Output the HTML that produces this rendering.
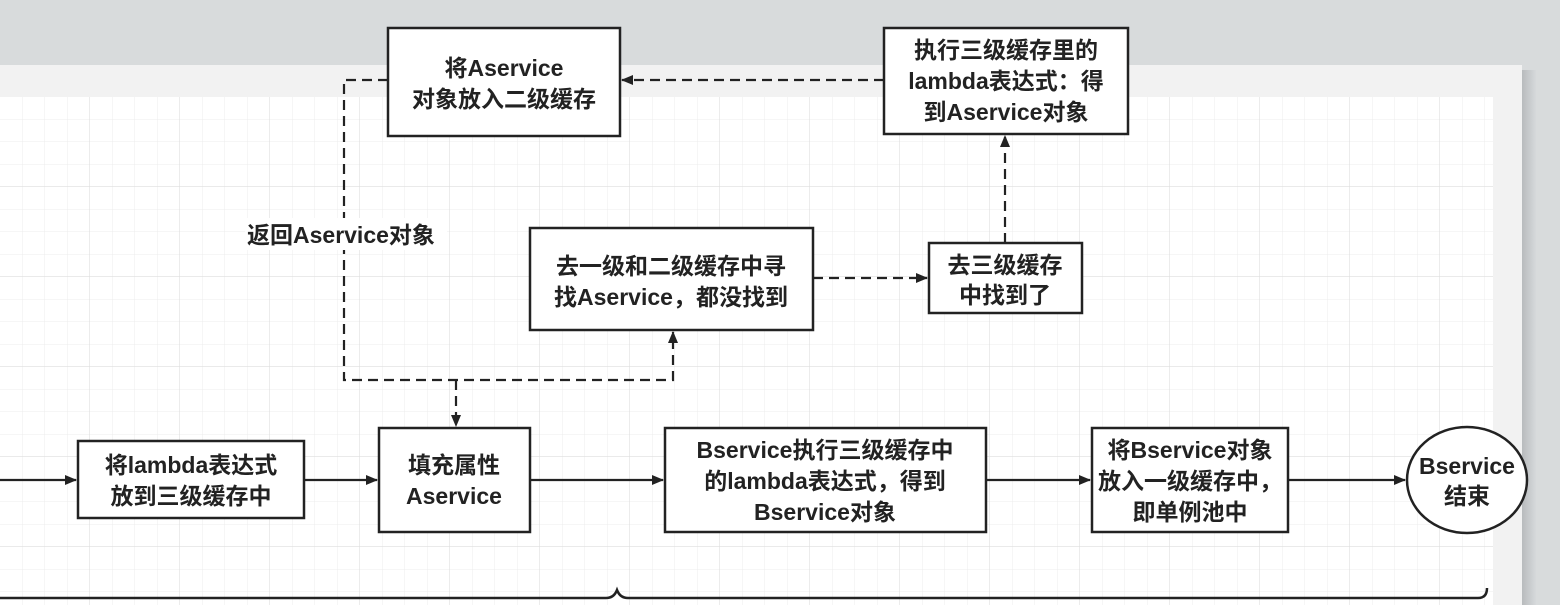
<!DOCTYPE html>
<html><head><meta charset="utf-8"><style>
html,body{margin:0;padding:0;width:1560px;height:605px;overflow:hidden;background:#d6d9db;}
</style></head><body>
<svg width="1560" height="605" xmlns="http://www.w3.org/2000/svg" style="display:block">
<defs>
<pattern id="g" x="0" y="97" width="22.5" height="22.5" patternUnits="userSpaceOnUse">
<path d="M22.5 0V22.5M0 22.5H22.5" stroke="#ececec" stroke-width="1" fill="none"/>
</pattern>
<pattern id="G" x="0" y="97" width="90" height="90" patternUnits="userSpaceOnUse">
<path d="M90 0V90M0 90H90" stroke="#dedede" stroke-width="1.2" fill="none"/>
</pattern>
<marker id="a" markerWidth="12" markerHeight="10" refX="11" refY="5" orient="auto" markerUnits="userSpaceOnUse">
<path d="M0 0L12 5L0 10Z" fill="#222"/>
</marker>
<linearGradient id="sh" x1="0" x2="1"><stop offset="0" stop-color="#b8bbbd"/><stop offset="1" stop-color="#d6d9db"/></linearGradient>
</defs>
<rect x="0" y="0" width="1560" height="605" fill="#d8dbdc"/>
<rect x="1522" y="70" width="14" height="535" fill="url(#sh)"/>
<rect x="0" y="65" width="1522" height="540" fill="#f2f2f2"/>
<rect x="0" y="97" width="1493" height="508" fill="#fff"/>
<rect x="0" y="97" width="1493" height="508" fill="url(#g)"/>
<rect x="0" y="97" width="1493" height="508" fill="url(#G)"/>
<g stroke="#222" stroke-width="2.5" fill="none">
<path d="M0 598H606Q614 598 617 590Q620 598 628 598H1478Q1487 598 1487 588"/>
</g>
<g stroke="#222" stroke-width="2.5" fill="#fff">
<rect x="388" y="28" width="232" height="108"/>
<rect x="884" y="28" width="244" height="106"/>
<rect x="530" y="228" width="283" height="102"/>
<rect x="929" y="243" width="153" height="70"/>
<rect x="78" y="441" width="226" height="77"/>
<rect x="379" y="428" width="151" height="104"/>
<rect x="665" y="428" width="321" height="104"/>
<rect x="1092" y="428" width="196" height="104"/>
<ellipse cx="1467" cy="480" rx="60" ry="53"/>
</g>
<g stroke="#222" stroke-width="2.2" fill="none">
<path d="M0 480H76" marker-end="url(#a)"/>
<path d="M304 480H377" marker-end="url(#a)"/>
<path d="M530 480H663" marker-end="url(#a)"/>
<path d="M986 480H1090" marker-end="url(#a)"/>
<path d="M1288 480H1405" marker-end="url(#a)"/>
</g>
<g stroke="#222" stroke-width="2.2" fill="none" stroke-dasharray="10 6">
<path d="M388 80H344V380H673V332" marker-end="url(#a)"/>
<path d="M456 380V426" marker-end="url(#a)"/>
<path d="M884 80H622" marker-end="url(#a)"/>
<path d="M813 278H927" marker-end="url(#a)"/>
<path d="M1005 243V136" marker-end="url(#a)"/>
</g>
<rect x="245" y="218" width="202" height="32" fill="#fff"/>
<g font-family="Liberation Sans, Noto Sans CJK SC, sans-serif" font-weight="bold" font-size="23" fill="#222" text-anchor="middle">
<text x="504" y="76">将Aservice</text><text x="504" y="107">对象放入二级缓存</text>
<text x="1006" y="58">执行三级缓存里的</text><text x="1006" y="89">lambda表达式：得</text><text x="1006" y="120">到Aservice对象</text>
<text x="671" y="274">去一级和二级缓存中寻</text><text x="671" y="305">找Aservice，都没找到</text>
<text x="1005" y="273">去三级缓存</text><text x="1005" y="303">中找到了</text>
<text x="191" y="473">将lambda表达式</text><text x="191" y="504">放到三级缓存中</text>
<text x="454" y="473">填充属性</text><text x="454" y="504">Aservice</text>
<text x="825" y="458">Bservice执行三级缓存中</text><text x="825" y="489">的lambda表达式，得到</text><text x="825" y="520">Bservice对象</text>
<text x="1190" y="458">将Bservice对象</text><text x="1190" y="489">放入一级缓存中，</text><text x="1190" y="520">即单例池中</text>
<text x="1467" y="474">Bservice</text><text x="1467" y="504">结束</text>
<text x="247" y="243" text-anchor="start">返回Aservice对象</text>
</g>
</svg>
</body></html>
